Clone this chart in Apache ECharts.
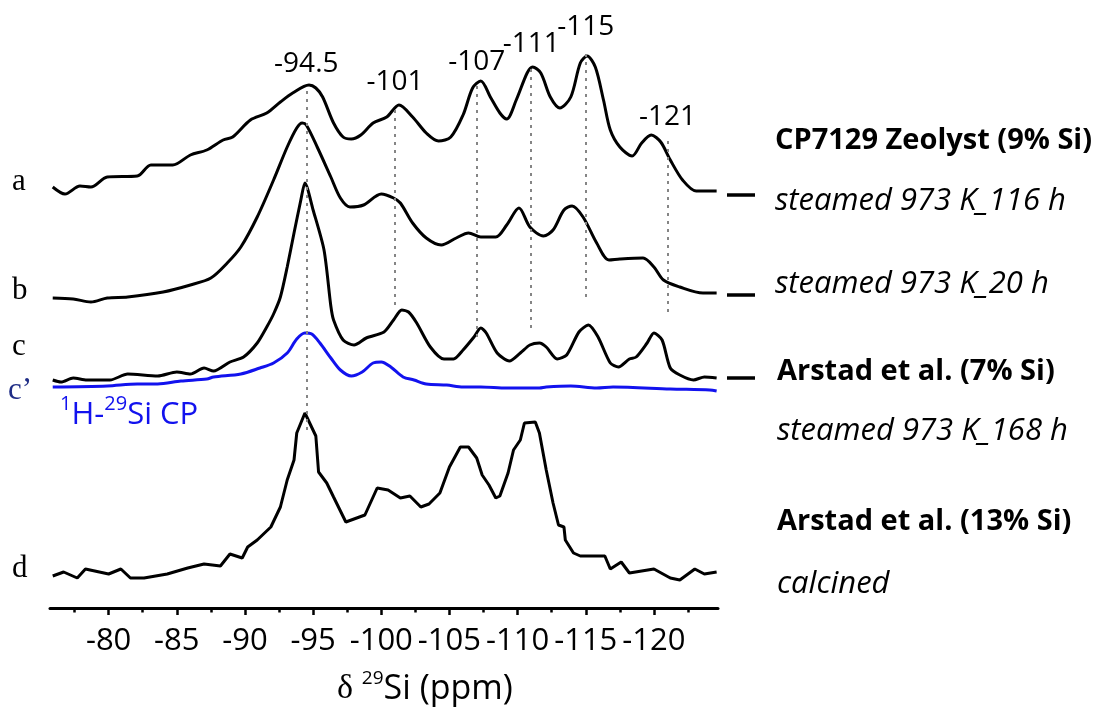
<!DOCTYPE html>
<html>
<head>
<meta charset="utf-8">
<script src="https://cdn.jsdelivr.net/npm/echarts@6/dist/echarts.min.js"></script>
<style>
  html, body { margin: 0; padding: 0; background: #ffffff; }
  #chart { width: 1099px; height: 711px; }
</style>
</head>
<body>
<div id="chart"></div>
<script>
// 29Si MAS NMR spectra, chemical shift in ppm, intensity in arbitrary units (traces stacked)
const majorTicks = [-80, -85, -90, -95, -100, -105, -110, -115, -120];
const minorTicks = [-77.5, -82.5, -87.5, -92.5, -97.5, -102.5, -107.5, -112.5, -117.5, -122.5];

// assigned peak positions and the vertical span of their guide lines
const peakShifts = [-94.5, -101, -107, -111, -115, -121];
const peakLineTop = [521, 503, 523, 541, 558, 468];
const peakLineBottom = [178, 303, 271, 280, 311, 296];

// a: CP7129 Zeolyst, steamed 973 K, 116 h
const spectrumA = [
  [-75.9, 421], [-76.8, 414], [-77.9, 422], [-78.7, 421], [-79.9, 431], [-82.1, 432],
  [-83.1, 443], [-84.7, 443], [-86.0, 453], [-87.2, 458], [-88.4, 468], [-89.1, 471],
  [-90.4, 488], [-91.6, 495], [-92.6, 506], [-93.5, 515], [-94.7, 523], [-95.2, 520],
  [-95.7, 511], [-96.5, 485], [-97.2, 471], [-97.8, 469], [-98.5, 473], [-99.4, 485],
  [-100.4, 491], [-101.3, 503], [-102.3, 491], [-103.3, 475], [-104.2, 467], [-105.1, 471],
  [-106.0, 493], [-106.7, 520], [-107.3, 527], [-108.0, 511], [-108.7, 495], [-109.2, 489],
  [-109.9, 508], [-110.7, 535], [-111.1, 541], [-111.7, 535], [-112.4, 511], [-113.1, 500],
  [-113.9, 511], [-114.6, 545], [-115.1, 552], [-115.7, 541], [-116.3, 508], [-116.8, 478],
  [-117.5, 461], [-118.4, 452], [-119.1, 465], [-119.8, 473], [-120.5, 466], [-121.2, 448],
  [-122.1, 428], [-123.1, 417], [-124.6, 417]
];

// b: CP7129 Zeolyst, steamed 973 K, 20 h
const spectrumB = [
  [-75.9, 310], [-77.4, 309], [-78.7, 306], [-79.9, 310], [-81.4, 311], [-84.0, 316],
  [-86.0, 323], [-87.5, 330], [-88.7, 345], [-89.7, 361], [-90.9, 391], [-92.1, 428],
  [-93.1, 461], [-93.8, 480], [-94.2, 485], [-94.5, 483], [-95.3, 461], [-96.3, 431],
  [-97.0, 410], [-97.7, 401], [-98.7, 403], [-100.0, 414], [-100.9, 410], [-101.4, 405],
  [-102.3, 385], [-103.3, 370], [-104.4, 363], [-105.5, 370], [-106.4, 375], [-107.3, 371],
  [-108.4, 371], [-109.2, 383], [-110.1, 400], [-110.9, 381], [-111.9, 372], [-112.6, 378],
  [-113.4, 398], [-114.0, 402], [-114.8, 391], [-115.8, 365], [-116.7, 348], [-117.5, 349],
  [-119.2, 350], [-120.0, 341], [-120.7, 328], [-121.9, 321], [-123.6, 315], [-124.6, 315]
];

// c: Arstad et al. (7% Si), steamed 973 K, 168 h
const spectrumC = [
  [-75.9, 228], [-76.5, 226], [-77.4, 230], [-78.4, 228], [-80.1, 228], [-81.4, 234],
  [-83.6, 232], [-85.0, 236], [-86.0, 234], [-87.0, 240], [-87.7, 237], [-88.9, 246],
  [-89.9, 251], [-90.9, 265], [-91.6, 281], [-92.1, 294], [-92.6, 311], [-93.1, 341],
  [-93.6, 375], [-94.1, 408], [-94.4, 425], [-95.0, 398], [-95.8, 358], [-96.3, 302],
  [-96.5, 288], [-97.2, 268], [-98.0, 263], [-98.9, 270], [-100.2, 276], [-100.9, 288],
  [-101.5, 298], [-102.0, 296], [-102.6, 285], [-103.6, 261], [-104.6, 249], [-105.3, 249],
  [-106.0, 258], [-106.8, 271], [-107.3, 280], [-107.7, 275], [-108.5, 255], [-109.4, 247],
  [-110.2, 255], [-110.9, 263], [-111.6, 265], [-112.1, 261], [-112.9, 249], [-113.6, 253],
  [-114.5, 276], [-115.2, 283], [-115.9, 271], [-116.8, 245], [-117.4, 241], [-118.2, 249],
  [-118.7, 251], [-119.5, 265], [-120.0, 275], [-120.6, 268], [-121.2, 240], [-121.9, 233],
  [-122.9, 228], [-123.7, 231], [-124.6, 230]
];

// c': 1H-29Si cross-polarisation spectrum of sample c
const spectrumCP = [
  [-75.9, 221], [-79.9, 222], [-82.1, 224], [-83.6, 224], [-85.3, 227], [-87.2, 229],
  [-87.7, 231], [-89.7, 234], [-91.1, 240], [-92.1, 245], [-93.1, 255], [-93.8, 269],
  [-94.4, 275], [-94.9, 274], [-95.5, 265], [-96.3, 250], [-97.0, 238], [-97.8, 232],
  [-98.6, 236], [-99.4, 245], [-100.0, 246], [-100.7, 241], [-101.6, 231], [-102.4, 228],
  [-103.3, 224], [-104.8, 223], [-106.0, 221], [-107.3, 221], [-109.2, 220], [-111.6, 220],
  [-112.1, 221], [-113.9, 222], [-115.8, 220], [-117.0, 221], [-121.2, 219], [-124.1, 218],
  [-124.6, 217]
];

// d: Arstad et al. (13% Si), calcined
const spectrumD = [
  [-75.9, 32], [-76.7, 36], [-77.7, 30], [-78.3, 39], [-80.0, 34], [-80.9, 39],
  [-81.6, 30], [-82.6, 30], [-84.3, 34], [-85.8, 40], [-87.0, 44], [-88.2, 42],
  [-88.9, 54], [-89.8, 50], [-90.2, 61], [-90.9, 68], [-91.9, 81], [-92.6, 101],
  [-93.1, 128], [-93.6, 148], [-93.8, 175], [-94.4, 195], [-95.2, 172], [-95.4, 136],
  [-96.0, 125], [-96.5, 111], [-97.4, 86], [-98.8, 93], [-99.7, 120], [-100.5, 118],
  [-101.4, 110], [-102.1, 112], [-102.9, 101], [-103.5, 104], [-104.3, 115], [-105.0, 141],
  [-105.8, 161], [-106.4, 161], [-107.0, 150], [-107.4, 133], [-107.9, 123], [-108.4, 110],
  [-108.7, 112], [-109.3, 135], [-109.7, 158], [-110.2, 168], [-110.5, 185], [-111.3, 186],
  [-111.6, 175], [-112.1, 138], [-112.6, 105], [-113.0, 83], [-113.4, 81], [-113.5, 68],
  [-114.1, 55], [-114.6, 52], [-116.4, 52], [-116.8, 39], [-117.6, 46], [-118.2, 35],
  [-120.0, 39], [-121.2, 30], [-121.9, 28], [-123.0, 39], [-123.7, 34], [-124.6, 36]
];

// short baseline markers to the right of traces a, b and c (same intensity scale)
const baselineMarkLevels = [413, 313, 230];

const BLACK = '#000000';
const BLUE = '#1212ee';
const NAVY = '#1f2d86';

function spectrumSeries(name, data, color, smooth) {
  return {
    name: name,
    type: 'line',
    data: data,
    showSymbol: false,
    symbol: 'none',
    smooth: smooth,
    lineStyle: { color: color, width: 3 },
    z: 3,
    silent: true
  };
}

function baselineMark(level) {
  return {
    type: 'line',
    xAxisIndex: 2,
    yAxisIndex: 1,
    data: [[0, level], [1, level]],
    showSymbol: false,
    symbol: 'none',
    clip: false,
    lineStyle: { color: BLACK, width: 3.5 },
    silent: true
  };
}

// free text placed by its baseline (middle-aligned canvas text)
function textAt(text, x, baseline, size, font, fill, rich) {
  const el = {
    type: 'text',
    x: x,
    y: baseline - Math.round(size * 0.37),
    silent: true,
    style: {
      text: text,
      font: font,
      fill: fill,
      align: 'left',
      verticalAlign: 'middle',
      textAlign: 'left',
      textVerticalAlign: 'middle'
    }
  };
  if (rich) el.style.rich = rich;
  return el;
}

const guideLines = peakShifts.map((s, i) => [
  { name: String(s), coord: [s, peakLineBottom[i]] },
  { coord: [s, peakLineTop[i]] }
]);

const chart = echarts.init(document.getElementById('chart'), null, { renderer: 'canvas' });

const supRich = (color, size, supSize, raise, greekSize) => ({
  n: { fontFamily: 'Open Sans', fontSize: size, lineHeight: size, color: color, verticalAlign: 'bottom' },
  s: { fontFamily: 'Open Sans', fontSize: supSize, lineHeight: supSize, color: color, verticalAlign: 'bottom', padding: [0, 0, raise, 0] },
  g: { fontFamily: 'Liberation Serif', fontSize: greekSize || size, lineHeight: size, color: color, verticalAlign: 'bottom' }
});

chart.setOption({
  backgroundColor: '#ffffff',
  animation: false,
  grid: [
    { left: 50, right: 381, top: 48, bottom: 103, containLabel: false, outerBoundsMode: 'none' },
    { left: 727, width: 28, top: 48, bottom: 103, containLabel: false, outerBoundsMode: 'none' }
  ],
  xAxis: [
    {
      type: 'value',
      gridIndex: 0,
      min: -124.7,
      max: -75.7,
      inverse: true,
      position: 'bottom',
      axisLine: { show: true, onZero: false, lineStyle: { color: BLACK, width: 3 } },
      axisTick: { show: true, customValues: majorTicks, length: 7, lineStyle: { color: BLACK, width: 2.5 } },
      axisLabel: {
        show: true, customValues: majorTicks, margin: 18,
        fontFamily: 'Open Sans', fontSize: 31, color: BLACK
      },
      splitLine: { show: false },
      minorTick: { show: false }
    },
    {
      type: 'value',
      gridIndex: 0,
      min: -124.7,
      max: -75.7,
      inverse: true,
      position: 'bottom',
      offset: 0,
      axisLine: { show: false },
      axisTick: { show: true, customValues: minorTicks, length: 4.5, lineStyle: { color: BLACK, width: 2.5 } },
      axisLabel: { show: false },
      splitLine: { show: false }
    },
    {
      type: 'value',
      gridIndex: 1,
      min: 0,
      max: 1,
      show: false
    }
  ],
  yAxis: [
    { type: 'value', gridIndex: 0, min: 0, max: 560, show: false, splitLine: { show: false } },
    { type: 'value', gridIndex: 1, min: 0, max: 560, show: false, splitLine: { show: false } }
  ],
  series: [
    Object.assign(spectrumSeries('a', spectrumA, BLACK, 0.3), {
      markLine: {
        silent: true,
        symbol: ['none', 'none'],
        animation: false,
        lineStyle: { color: '#858585', width: 2, type: [3, 5] },
        label: {
          show: true, position: 'end', distance: 9, formatter: '{b}',
          fontFamily: 'Open Sans', fontSize: 28, color: BLACK
        },
        emphasis: { disabled: true },
        data: guideLines
      }
    }),
    spectrumSeries('b', spectrumB, BLACK, 0.3),
    spectrumSeries('c', spectrumC, BLACK, 0.25),
    spectrumSeries("c'", spectrumCP, BLUE, 0.3),
    spectrumSeries('d', spectrumD, BLACK, false),
    baselineMark(baselineMarkLevels[0]),
    baselineMark(baselineMarkLevels[1]),
    baselineMark(baselineMarkLevels[2])
  ],
  graphic: [
    // trace letters
    textAt('a', 12, 193, 31, '31px "Liberation Serif"', BLACK),
    textAt('b', 12, 302, 31, '31px "Liberation Serif"', BLACK),
    textAt('c', 12, 358, 31, '31px "Liberation Serif"', BLACK),
    textAt('c\u2019', 8, 402, 31, '31px "Liberation Serif"', NAVY),
    textAt('d', 12, 580, 31, '31px "Liberation Serif"', BLACK),
    // CP label under trace c'
    textAt('{s|1}{n|H-}{s|29}{n|Si CP}', 60, 426, 31, '31px "Open Sans"', BLUE, supRich(BLUE, 31, 20, 16)),
    // sample descriptions
    textAt('CP7129 Zeolyst (9% Si)', 775, 152, 29, 'bold 29px "Open Sans"', BLACK),
    textAt('steamed 973 K_116 h', 775, 212, 31, 'italic 31px "Open Sans"', BLACK),
    textAt('steamed 973 K_20 h', 775, 295, 31, 'italic 31px "Open Sans"', BLACK),
    textAt('Arstad et al. (7% Si)', 777, 383, 29, 'bold 29px "Open Sans"', BLACK),
    textAt('steamed 973 K_168 h', 777, 442, 31, 'italic 31px "Open Sans"', BLACK),
    textAt('Arstad et al. (13% Si)', 777, 533, 29, 'bold 29px "Open Sans"', BLACK),
    textAt('calcined', 777, 595, 31, 'italic 31px "Open Sans"', BLACK),
    // axis title
    textAt('{g|\u03b4} {s|29}{n|Si (ppm)}', 337, 702, 34, '34px "Open Sans"', BLACK, supRich(BLACK, 34, 19, 18, 34))
  ]
});
</script>
</body>
</html>
